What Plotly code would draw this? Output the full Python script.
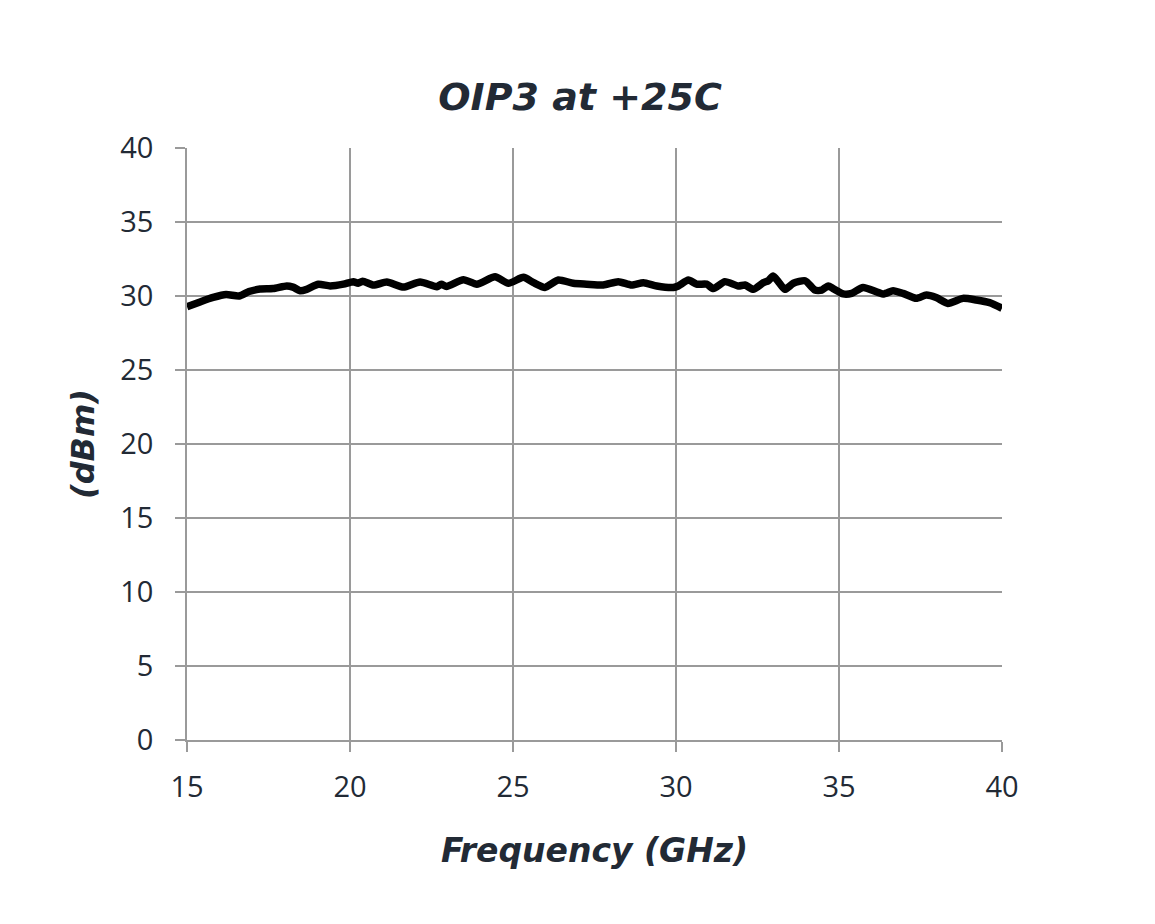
import plotly.graph_objects as go

freq_ghz = [15.0, 15.4, 15.8, 16.2, 16.6, 16.9, 17.24, 17.64, 18.06, 18.25, 18.47, 18.67,
            19.03, 19.39, 19.8, 20.1, 20.25, 20.39, 20.72, 21.13, 21.64, 22.15, 22.66, 22.8,
            22.96, 23.48, 23.89, 24.45, 24.86, 25.32, 25.63, 25.98, 26.39, 26.85, 27.26,
            27.77, 28.23, 28.64, 29.0, 29.41, 29.92, 30.07, 30.38, 30.63, 30.94, 31.15,
            31.5, 31.91, 32.12, 32.37, 32.68, 32.83, 32.98, 33.14, 33.34, 33.6, 33.96,
            34.26, 34.47, 34.67, 34.82, 35.13, 35.39, 35.74, 36.35, 36.66, 36.96, 37.37,
            37.68, 37.98, 38.34, 38.8, 39.21, 39.62, 40.0]
oip3_dbm = [29.28, 29.6, 29.9, 30.1, 30.0, 30.3, 30.47, 30.5, 30.68, 30.6, 30.36, 30.45,
            30.79, 30.68, 30.8, 30.97, 30.86, 31.0, 30.74, 30.95, 30.6, 30.95, 30.63, 30.8,
            30.65, 31.1, 30.8, 31.3, 30.86, 31.26, 30.9, 30.58, 31.08, 30.86, 30.8,
            30.74, 30.97, 30.74, 30.9, 30.68, 30.58, 30.68, 31.08, 30.8, 30.8, 30.5,
            30.97, 30.68, 30.74, 30.45, 30.9, 31.03, 31.35, 30.97, 30.45, 30.86, 31.03,
            30.4, 30.4, 30.68, 30.5, 30.14, 30.18, 30.58, 30.14, 30.36, 30.18, 29.84,
            30.07, 29.9, 29.5, 29.84, 29.73, 29.55, 29.17]

x_ticks = [15, 20, 25, 30, 35, 40]
y_ticks = [0, 5, 10, 15, 20, 25, 30, 35, 40]

text_color = "#222a35"
grid_color = "#9a9a9a"
tick_family = "Open Sans, DejaVu Sans, sans-serif"
title_family = "DejaVu Sans, Open Sans, sans-serif"

fig = go.Figure()
fig.add_trace(go.Scatter(
    x=freq_ghz, y=oip3_dbm, mode="lines",
    line=dict(color="black", width=7.5, shape="spline", smoothing=0.6),
    showlegend=False, hoverinfo="x+y",
))

fig.update_layout(
    width=1155, height=924,
    margin=dict(l=179, r=161, t=140, b=192),
    paper_bgcolor="white", plot_bgcolor="white",
    font=dict(family=tick_family, color=text_color),
    title=dict(
        text="<b><i>OIP3 at +25C</i></b>",
        x=(580 - 8) / 1155, xanchor="center", xref="container",
        y=1 - 89 / 924, yanchor="middle", yref="container",
        font=dict(size=38, color=text_color, family=title_family),
    ),
    xaxis=dict(
        range=[15, 40], tickvals=x_ticks, ticktext=[str(v) for v in x_ticks],
        showgrid=True, gridcolor=grid_color, gridwidth=1.5,
        showline=True, linecolor=grid_color, linewidth=1.5,
        ticks="outside", ticklen=10, tickcolor=grid_color, tickwidth=1.5,
        tickfont=dict(size=29, color=text_color),
        ticklabelstandoff=10,
        zeroline=False,
        title=dict(text="<b><i>Frequency (GHz)</i></b>",
                   font=dict(size=33, color=text_color, family=title_family), standoff=35),
    ),
    yaxis=dict(
        range=[0, 40], tickvals=y_ticks, ticktext=[str(v) for v in y_ticks],
        showgrid=True, gridcolor=grid_color, gridwidth=1.5,
        showline=True, linecolor=grid_color, linewidth=1.5,
        ticks="outside", ticklen=10, tickcolor=grid_color, tickwidth=1.5,
        tickfont=dict(size=29, color=text_color),
        ticklabelstandoff=16,
        zeroline=False,
        title=dict(text="<b><i>(dBm)</i></b>",
                   font=dict(size=32, color=text_color, family=title_family), standoff=16),
    ),
)

fig.write_html("out.html")
